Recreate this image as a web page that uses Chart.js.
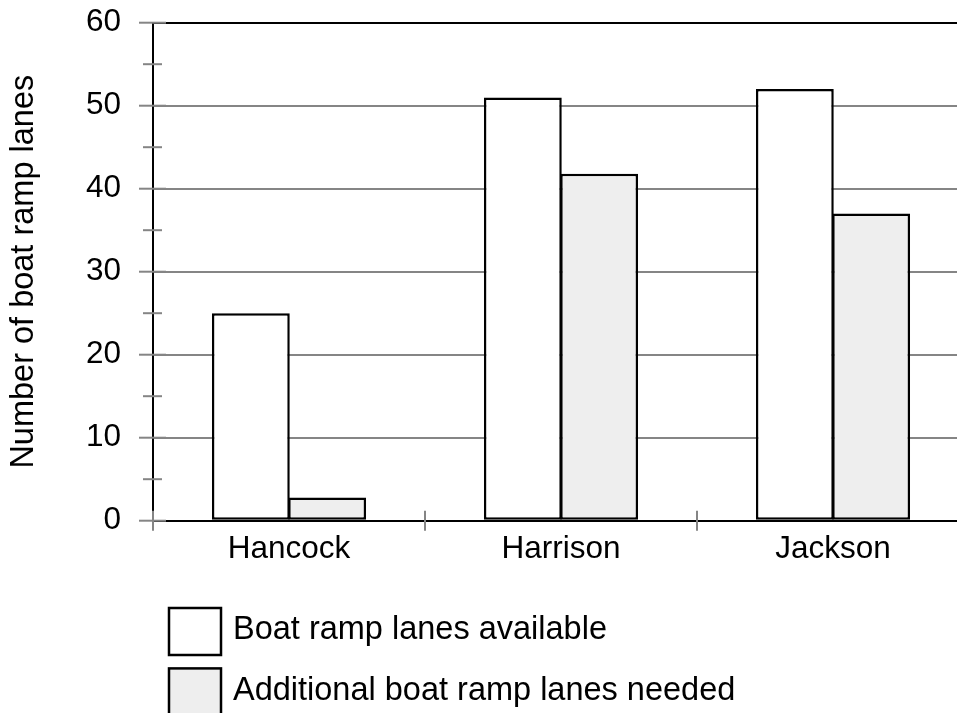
<!DOCTYPE html>
<html><head><meta charset="utf-8">
<script src="https://cdn.jsdelivr.net/npm/chart.js@4"></script>
<style>
html,body{margin:0;padding:0;overflow:hidden;background:#fff;width:957px;height:713px}
#wrap{position:absolute;left:0;top:0;width:1100px;height:713px}
</style></head><body><div id="wrap"><canvas id="c" width="1100" height="713"></canvas></div>
<script>
const categories = ['Hancock', 'Harrison', 'Jackson'];
const seriesNames = ['Boat ramp lanes available', 'Additional boat ramp lanes needed'];
const availableValues = [25, 51, 52];
const neededValues = [2.8, 41.8, 37];
const yTickValues = [0, 10, 20, 30, 40, 50, 60];
const yAxisTitle = 'Number of boat ramp lanes';

const FONT = 'Liberation Sans, Arial, Helvetica, sans-serif';
const GRAY = '#858585';

const tickPlugin = {
  id: 'ticksAndLegend',
  afterDraw(chart) {
    const ctx = chart.ctx;
    const y = chart.scales.y, x = chart.scales.x;
    const ax = chart.chartArea.left, ay = chart.chartArea.bottom;
    ctx.save();
    ctx.strokeStyle = GRAY;
    ctx.lineWidth = 2;
    y.ticks.forEach(t => {
      const py = y.getPixelForValue(t.value);
      const major = yTickValues.includes(t.value);
      ctx.beginPath();
      ctx.moveTo(ax - (major ? 14 : 10), py);
      ctx.lineTo(ax + (major ? 13 : 9), py);
      ctx.stroke();
    });
    for (let i = -1; i < categories.length; i++) {
      const px = (x.getPixelForValue(i) + x.getPixelForValue(i + 1)) / 2;
      ctx.beginPath();
      ctx.moveTo(px, ay - 10);
      ctx.lineTo(px, ay + 10);
      ctx.stroke();
    }
    ctx.font = '32.5px ' + FONT;
    ctx.textBaseline = 'middle';
    ctx.textAlign = 'left';
    chart.data.datasets.forEach((ds, i) => {
      const bx = 169, by = 608 + i * 60.4, bw = 52, bh = 47;
      ctx.fillStyle = ds.backgroundColor;
      ctx.fillRect(bx, by, bw, bh);
      ctx.strokeStyle = '#000';
      ctx.lineWidth = 2.5;
      ctx.strokeRect(bx, by, bw, bh);
      ctx.fillStyle = '#000';
      ctx.fillText(ds.label, 233, by + bh / 2 - 1);
    });
    ctx.restore();
  }
};

new Chart(document.getElementById('c'), {
  type: 'bar',
  data: {
    labels: categories,
    datasets: [
      { label: seriesNames[0], data: availableValues, backgroundColor: '#ffffff', borderColor: '#000', borderWidth: 2.5, borderSkipped: false },
      { label: seriesNames[1], data: neededValues, backgroundColor: '#eeeeee', borderColor: '#000', borderWidth: 2.5, borderSkipped: false }
    ]
  },
  options: {
    responsive: false,
    animation: false,
    layout: { padding: { top: 22.7, right: 131, bottom: 0, left: 0 } },
    datasets: { bar: { categoryPercentage: 0.561, barPercentage: 1.02 } },
    plugins: { legend: { display: false }, tooltip: { enabled: false } },
    scales: {
      x: {
        afterFit(s) { s.height = 713 - 520.7; s.paddingLeft = 0; s.paddingRight = 0; },
        grid: { display: false, drawTicks: false },
        border: { display: true, color: '#000', width: 2 },
        ticks: { color: '#000', font: { family: FONT, size: 31.5 }, padding: 10 }
      },
      y: {
        min: 0, max: 60,
        afterFit(s) { s.width = 153; s.paddingTop = 0; s.paddingBottom = 0; },
        ticks: {
          stepSize: 5, color: '#000', font: { family: FONT, size: 31.5 }, padding: 32,
          callback: v => yTickValues.includes(v) ? v : ''
        },
        grid: {
          drawTicks: false, lineWidth: 2,
          color: c => (c.tick && c.tick.value === 60) ? '#000' : (c.tick && c.tick.value > 0 && yTickValues.includes(c.tick.value) ? GRAY : 'rgba(0,0,0,0)')
        },
        border: { display: true, color: '#000', width: 2 },
        title: { display: true, text: yAxisTitle, color: '#000', font: { family: FONT, size: 32.5 }, padding: { top: 5, bottom: 0 } }
      }
    }
  },
  plugins: [tickPlugin]
});
</script></body></html>
